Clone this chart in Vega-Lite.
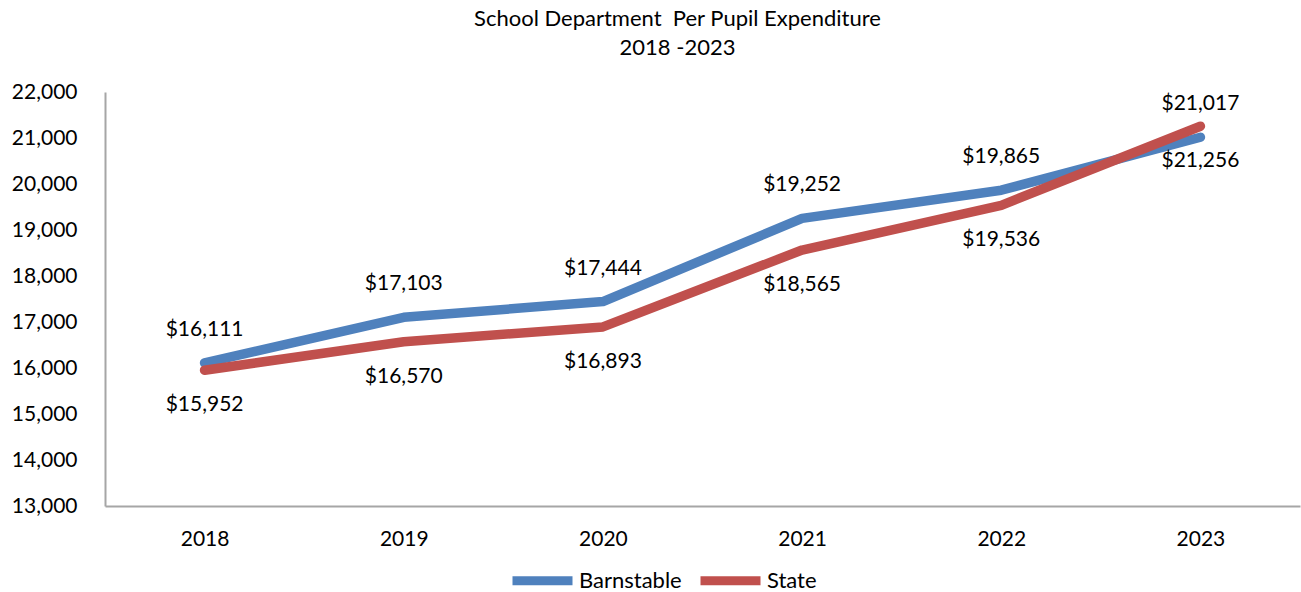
{
  "$schema": "https://vega.github.io/schema/vega-lite/v6.json",
  "width": 1195,
  "height": 414,
  "autosize": {"type": "none"},
  "padding": {"left": 105, "top": 92, "right": 1, "bottom": 86},
  "background": "white",
  "title": {
    "text": ["School Department\u00a0 Per Pupil Expenditure", "2018 -2023"],
    "fontSize": 22,
    "fontWeight": "normal",
    "font": "Lato",
    "color": "#000000",
    "anchor": "middle",
    "lineHeight": 29,
    "offset": 21,
    "dx": -25
  },
  "data": {
    "values": [
      {"year": "2018", "series": "Barnstable", "value": 16111},
      {"year": "2019", "series": "Barnstable", "value": 17103},
      {"year": "2020", "series": "Barnstable", "value": 17444},
      {"year": "2021", "series": "Barnstable", "value": 19252},
      {"year": "2022", "series": "Barnstable", "value": 19865},
      {"year": "2023", "series": "Barnstable", "value": 21017},
      {"year": "2018", "series": "State", "value": 15952},
      {"year": "2019", "series": "State", "value": 16570},
      {"year": "2020", "series": "State", "value": 16893},
      {"year": "2021", "series": "State", "value": 18565},
      {"year": "2022", "series": "State", "value": 19536},
      {"year": "2023", "series": "State", "value": 21256}
    ]
  },
  "encoding": {
    "x": {
      "field": "year",
      "type": "ordinal",
      "title": null,
      "axis": {
        "labelAngle": 0,
        "labelFont": "Lato",
        "labelFontSize": 21,
        "labelColor": "#000000",
        "labelPadding": 22,
        "ticks": false,
        "domainColor": "#A6A6A6",
        "domainWidth": 2,
        "grid": false
      }
    },
    "y": {
      "field": "value",
      "type": "quantitative",
      "title": null,
      "scale": {"domain": [13000, 22000], "nice": false, "zero": false},
      "axis": {
        "values": [13000, 14000, 15000, 16000, 17000, 18000, 19000, 20000, 21000, 22000],
        "format": ",.0f",
        "labelFont": "Lato",
        "labelFontSize": 21,
        "labelColor": "#000000",
        "labelPadding": 28,
        "ticks": false,
        "grid": false,
        "domainColor": "#A6A6A6",
        "domainWidth": 2
      }
    }
  },
  "layer": [
    {
      "mark": {"type": "line", "strokeWidth": 9.5, "strokeCap": "round", "strokeJoin": "round"},
      "encoding": {
        "color": {
          "field": "series",
          "type": "nominal",
          "scale": {"domain": ["Barnstable", "State"], "range": ["#4F81BD", "#C0504D"]},
          "legend": {
            "title": null,
            "orient": "none",
            "direction": "horizontal",
            "legendX": 403,
            "legendY": 454,
            "symbolType": "stroke",
            "symbolSize": 3600,
            "symbolStrokeWidth": 9,
            "labelFont": "Lato",
            "labelFontSize": 22,
            "labelColor": "#000000",
            "labelOffset": 2,
            "columnPadding": 0
          }
        },
        "order": {"field": "series"}
      }
    },
    {
      "transform": [{"filter": "datum.series === 'Barnstable'"}],
      "mark": {"type": "text", "dy": -33, "font": "Lato", "fontSize": 21, "color": "#000000"},
      "encoding": {"text": {"field": "value", "type": "quantitative", "format": "$,.0f"}}
    },
    {
      "transform": [{"filter": "datum.series === 'State'"}],
      "mark": {"type": "text", "dy": 35, "font": "Lato", "fontSize": 21, "color": "#000000"},
      "encoding": {"text": {"field": "value", "type": "quantitative", "format": "$,.0f"}}
    }
  ],
  "config": {"view": {"stroke": null}}
}
